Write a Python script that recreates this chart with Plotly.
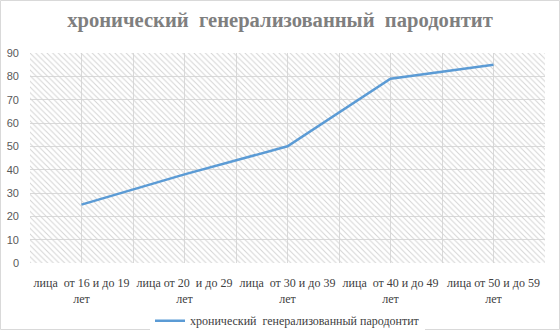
import plotly.graph_objects as go

categories = ["лица  от 16 и до 19<br>лет", "лица от 20  и до 29<br>лет", "лица  от 30 и до 39<br>лет",
              "лица  от 40 и до 49<br>лет", "лица от 50 и до 59<br>лет"]
values = [25, 38, 50, 79, 85]
series_name = "хронический  генерализованный пародонтит"
title_text = "хронический  генерализованный  пародонтит"
y_ticks = list(range(0, 91, 10))

idx = list(range(len(categories)))
SERIF = "Liberation Serif"

fig = go.Figure()
# hatched plot-area background (spans the full category/value range)
fig.add_trace(go.Bar(
    x=[(len(categories) - 1) / 2], y=[max(y_ticks)], width=[len(categories)],
    marker=dict(color="white", line=dict(width=0),
                pattern=dict(shape="\\", fgcolor="#d4d4d4", bgcolor="rgba(255,255,255,0)",
                             size=4, solidity=0.25, fillmode="replace")),
    showlegend=False, hoverinfo="skip"))
fig.add_trace(go.Scatter(
    x=idx, y=values, mode="lines", name=series_name,
    line=dict(color="#5b9bd5", width=2.5)))

fig.update_layout(
    width=560, height=330,
    margin=dict(l=30, r=15, t=53, b=67, autoexpand=False),
    paper_bgcolor="white", plot_bgcolor="white",
    title=dict(text=title_text, x=0.5, xref="container", y=0.94, yref="container",
               yanchor="middle", xanchor="center",
               font=dict(family=SERIF, size=20.6, color="#7f7f7f", weight="bold")),
    xaxis=dict(range=[-0.5, len(categories) - 0.5], tickvals=idx, ticktext=categories,
               showgrid=True, gridcolor="#d9d9d9", gridwidth=1, zeroline=False,
               showline=False, ticks="", automargin=False, ticklabelstandoff=11,
               minor=dict(dtick=0.5, tick0=-0.5, showgrid=True, gridcolor="#d9d9d9", gridwidth=1),
               tickfont=dict(family=SERIF, size=12, color="#404040")),
    yaxis=dict(range=[0, 90], tickvals=y_ticks, showgrid=True, gridcolor="#d9d9d9", gridwidth=1,
               zeroline=False, showline=False, ticks="", ticklabelstandoff=10, automargin=False,
               tickfont=dict(family="Liberation Sans", size=11, color="#595959")),
    legend=dict(orientation="h", x=0.5, xanchor="center", y=-0.275, yanchor="middle",
                font=dict(family=SERIF, size=12, color="#404040")),
    bargap=0,
)

fig.add_shape(type="rect", xref="paper", yref="paper",
              x0=-29.5/515, x1=1 + 14.5/515, y0=-66.5/210, y1=1 + 52.5/210,
              line=dict(color="#d9d9d9", width=1), layer="below")

fig.write_html("out.html", config={"displayModeBar": False},
               post_script="document.body.style.margin='0';document.body.style.padding='0';")
